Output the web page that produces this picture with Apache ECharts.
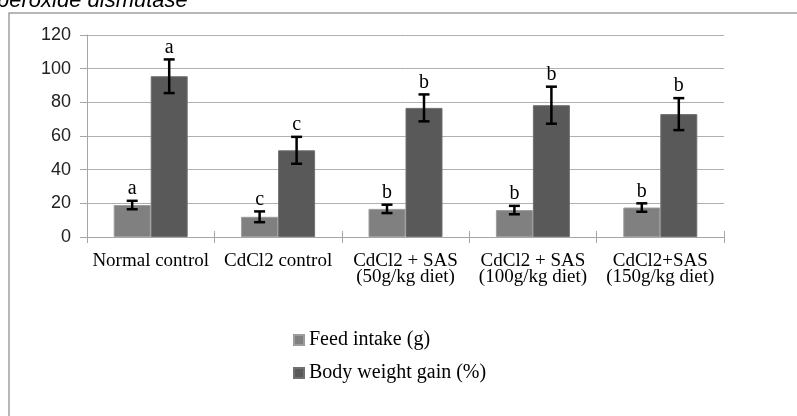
<!DOCTYPE html>
<html>
<head>
<meta charset="utf-8">
<script src="https://cdn.jsdelivr.net/npm/echarts@6/dist/echarts.min.js"></script>
<style>
html,body{margin:0;padding:0;background:#fff;}
#chart{width:797px;height:416px;}
</style>
</head>
<body>
<div id="chart"></div>
<script>
const categories = ['Normal control', 'CdCl2 control', 'CdCl2 + SAS\n(50g/kg diet)', 'CdCl2 + SAS\n(100g/kg diet)', 'CdCl2+SAS\n(150g/kg diet)'];
const seriesNames = ['Feed intake (g)', 'Body weight gain (%)'];
const feedIntake = [19, 12, 16.7, 16, 17.5];
const feedErr = [2.5, 3.2, 2.5, 2.5, 2.5];
const feedLetters = ['a', 'c', 'b', 'b', 'b'];
const bodyGain = [95.5, 51.5, 76.7, 78.3, 73];
const bodyErr = [10, 8, 8, 11, 9.5];
const bodyLetters = ['a', 'c', 'b', 'b', 'b'];
const yTicks = [0, 20, 40, 60, 80, 100, 120];

const BAR_W = 37;
const serif = '"Liberation Serif", "Times New Roman", serif';

function errData(vals, errs, letters) {
  return vals.map((v, i) => [i, v, v - errs[i], v + errs[i], letters[i]]);
}

function makeErrRender(offset, letters) {
  return function (params, api) {
    const idx = api.value(0);
    const lo = api.coord([idx, api.value(2)]);
    const hi = api.coord([idx, api.value(3)]);
    const x = lo[0] + offset;
    const cap = 5.5;
    const lineStyle = { stroke: '#000', lineWidth: 2.5 };
    const letter = letters[params.dataIndex];
    return {
      type: 'group',
      children: [
        { type: 'line', shape: { x1: x, y1: hi[1], x2: x, y2: lo[1] }, style: lineStyle },
        { type: 'line', shape: { x1: x - cap, y1: hi[1], x2: x + cap, y2: hi[1] }, style: lineStyle },
        { type: 'line', shape: { x1: x - cap, y1: lo[1], x2: x + cap, y2: lo[1] }, style: lineStyle },
        { type: 'text', style: { text: letter, x: x, y: hi[1] - 2, align: 'center', verticalAlign: 'bottom', fontSize: 20, fontFamily: serif, fill: '#000' } }
      ]
    };
  };
}

const chart = echarts.init(document.getElementById('chart'), null, { renderer: 'canvas' });
chart.setOption({
  animation: false,
  backgroundColor: '#fff',
  graphic: [
    { type: 'rect', shape: { x: 9, y: 13, width: 900, height: 500 }, style: { fill: 'none', stroke: '#a0a0a0', lineWidth: 1.5 }, silent: true },
    { type: 'text', x: -3, y: 12, style: { text: 'peroxide dismutase', fontSize: 22, fontStyle: 'italic', fontFamily: '"Liberation Sans", Arial, sans-serif', fill: '#000', align: 'left', verticalAlign: 'bottom' }, silent: true }
  ],
  grid: { left: 87, right: 73, top: 35, bottom: 179 },
  legend: {
    orient: 'vertical',
    left: 293,
    top: 330,
    padding: 0,
    itemWidth: 10,
    itemHeight: 10,
    itemGap: 13,
    itemTextGap: 4,
    icon: 'rect',
    textStyle: { fontFamily: serif, fontSize: 20, color: '#000', lineHeight: 20 },
    data: seriesNames
  },
  xAxis: [
    {
      type: 'category',
      data: categories,
      axisLine: { lineStyle: { color: '#a6a6a6', width: 1 } },
      axisTick: { show: true, length: 6, lineStyle: { color: '#a6a6a6' } },
      axisLabel: { interval: 0, fontFamily: serif, fontSize: 19, lineHeight: 16, color: '#000', margin: 16 }
    },
    {
      type: 'category',
      data: categories,
      position: 'bottom',
      axisLine: { show: false },
      axisTick: { show: true, inside: true, length: 6, lineStyle: { color: '#a6a6a6' } },
      axisLabel: { show: false }
    }
  ],
  yAxis: {
    type: 'value',
    min: yTicks[0],
    max: yTicks[yTicks.length - 1],
    interval: 20,
    axisLine: { show: true, lineStyle: { color: '#a6a6a6' } },
    axisTick: { show: true, length: 7, lineStyle: { color: '#a6a6a6' } },
    axisLabel: { fontFamily: '"Liberation Sans", Arial, sans-serif', fontSize: 18, color: '#222', margin: 16 },
    splitLine: { lineStyle: { color: '#b0b0b0', width: 1 } }
  },
  series: [
    {
      name: seriesNames[0], type: 'bar', data: feedIntake, barWidth: BAR_W, barGap: '0%',
      itemStyle: { color: '#808080', borderColor: '#9c9c9c', borderWidth: 1 }
    },
    {
      name: seriesNames[1], type: 'bar', data: bodyGain, barWidth: BAR_W, barGap: '0%',
      itemStyle: { color: '#595959', borderColor: '#707070', borderWidth: 1 }
    },
    {
      type: 'custom', name: 'feedErr', data: errData(feedIntake, feedErr, feedLetters),
      encode: { x: 0, y: [1, 2, 3] }, renderItem: makeErrRender(-BAR_W / 2, feedLetters), z: 5
    },
    {
      type: 'custom', name: 'bodyErr', data: errData(bodyGain, bodyErr, bodyLetters),
      encode: { x: 0, y: [1, 2, 3] }, renderItem: makeErrRender(BAR_W / 2, bodyLetters), z: 5
    }
  ]
});
</script>
</body>
</html>
